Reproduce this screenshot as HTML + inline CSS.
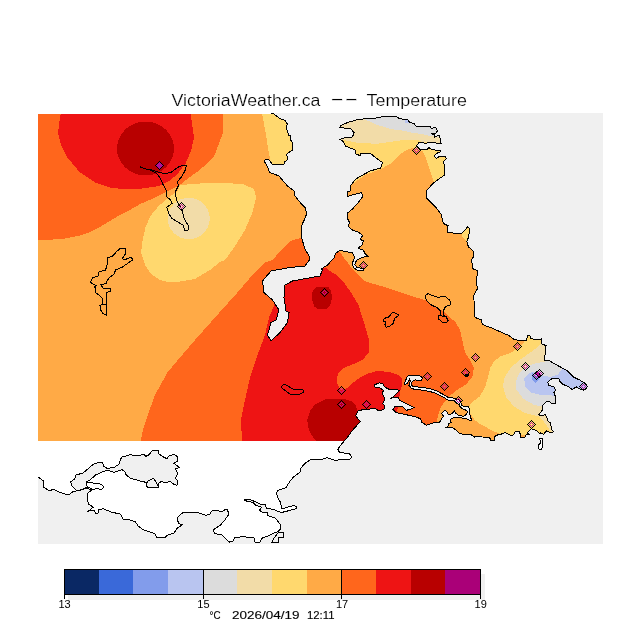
<!DOCTYPE html>
<html><head><meta charset="utf-8"><title>VictoriaWeather.ca -- Temperature</title>
<style>
html,body{margin:0;padding:0;background:#fff;}
body{width:640px;height:640px;overflow:hidden;position:relative;font-family:"Liberation Sans",sans-serif;}
svg{position:absolute;left:0;top:0;}
text{font-family:"Liberation Sans",sans-serif;fill:#000;}
</style></head><body>
<svg width="640" height="640" viewBox="0 0 640 640" shape-rendering="crispEdges">
<defs><clipPath id="plot"><rect x="38" y="113" width="565" height="431"/></clipPath>
<clipPath id="fieldclip"><rect x="38" y="114" width="565" height="327"/></clipPath></defs>
<rect x="0" y="0" width="640" height="640" fill="#ffffff"/>

<g clip-path="url(#plot)">
<rect x="38" y="113" width="565" height="431" fill="#ffffff"/>
<g clip-path="url(#fieldclip)">
<rect x="38" y="113" width="565" height="328" fill="#ffaa46"/>
<polygon fill="#ff661c" points="38.0,113.0 222.5,113.0 223.0,132.5 217.5,147.5 213.8,157.2 207.5,163.4 198.0,171.2 187.2,179.0 179.4,185.3 166.9,191.6 154.4,197.8 140.3,204.0 129.4,210.3 120.0,215.0 110.0,221.0 100.0,227.0 90.0,232.0 80.0,235.5 65.0,238.5 50.0,239.8 38.0,240.0"/>
<polygon fill="#ff661c" points="140.5,441.0 143.0,430.0 146.0,420.0 155.0,395.0 167.5,372.5 180.0,357.5 195.0,340.0 215.0,317.5 237.5,292.5 252.5,275.0 265.0,262.5 272.5,260.0 279.0,252.5 285.0,246.0 290.0,241.0 297.5,238.8 302.5,238.0 320.0,238.0 335.0,250.0 340.0,252.0 344.0,258.0 348.0,263.0 352.0,269.0 357.0,274.0 362.0,279.0 367.0,282.0 374.0,284.0 383.0,286.6 396.8,291.0 415.5,297.2 425.5,300.4 434.2,306.0 443.0,311.0 449.2,316.6 455.5,322.2 460.0,330.0 465.0,352.5 470.0,360.0 474.0,367.8 472.3,377.2 465.3,385.0 456.0,390.5 449.7,396.0 443.4,403.0 440.3,408.4 438.0,416.2 436.4,422.5 436.0,441.0"/>
<polygon fill="#ee1414" points="61.0,113.0 60.0,117.5 58.0,132.5 61.0,145.0 67.5,157.5 80.0,172.5 95.0,182.5 110.0,187.5 125.0,189.5 143.4,188.4 159.0,186.0 170.0,180.6 177.8,173.6 185.6,163.4 191.0,151.0 194.0,137.5 190.5,113.0"/>
<polygon fill="#ee1414" points="242.0,441.0 241.0,420.0 245.0,400.0 250.0,377.5 257.5,355.0 265.0,335.0 269.0,317.5 274.0,306.0 276.0,300.0 290.0,280.0 310.0,268.0 326.5,268.5 330.0,271.0 335.0,274.0 340.0,278.0 345.0,284.0 350.0,291.0 355.0,299.0 359.0,306.0 361.0,314.0 364.0,322.0 367.5,335.0 369.4,340.0 368.8,352.5 362.5,360.0 352.5,364.4 343.8,368.0 338.8,372.5 337.0,377.5 337.2,383.8 339.4,388.0 341.5,390.0 347.0,388.0 352.5,383.0 360.0,377.5 366.5,374.0 376.0,371.2 388.4,371.7 397.8,374.8 402.3,378.4 401.4,388.8 400.0,391.2 399.4,397.5 397.8,407.0 397.0,412.3 397.0,441.0"/>
<polygon fill="#b80000" points="316.5,441.0 313.0,437.0 310.0,432.0 308.0,427.0 307.3,420.0 310.0,411.2 315.0,404.4 325.0,399.4 337.5,398.8 345.5,399.2 351.0,401.0 355.4,404.5 356.5,408.0 357.5,411.5 362.0,420.0 362.0,441.0"/>
<polygon fill="#b80000" points="317.0,287.0 328.5,287.0 331.0,291.0 332.0,297.0 331.0,303.0 329.5,306.0 327.0,309.0 317.0,309.0 314.5,306.5 313.0,303.0 311.5,297.0 312.0,293.0 314.0,289.5"/>
<ellipse fill="#b80000" cx="145.5" cy="148.5" rx="28.5" ry="27"/>
<polygon fill="#ffd86e" points="180.0,185.0 212.5,182.5 242.5,184.0 254.0,189.0 256.0,197.5 252.5,212.5 245.0,230.0 234.0,247.5 225.0,260.0 220.0,262.0 210.0,270.0 195.0,279.0 180.0,281.5 170.0,282.5 160.0,280.0 151.0,273.8 145.0,265.0 141.0,252.5 142.7,240.0 145.8,226.0 151.2,215.0 159.0,205.6 168.4,197.8 177.8,190.8"/>
<polygon fill="#ffd86e" points="262.0,113.0 300.0,113.0 300.0,166.0 272.0,166.0 270.8,162.0 269.0,154.0 265.5,132.0"/>
<polygon fill="#ffd86e" points="335.0,113.0 450.0,113.0 450.0,182.5 434.0,182.5 430.0,170.0 426.2,158.8 422.5,151.2 416.4,149.0 413.0,147.5 406.5,150.3 400.0,154.0 390.0,164.0 381.0,169.0 365.0,175.0 352.5,184.0 335.0,190.0"/>
<polygon fill="#ffd86e" points="524.0,335.0 524.0,341.0 523.4,343.3 517.0,348.8 509.4,353.4 500.0,356.5 497.5,359.0 495.0,360.0 490.3,367.8 488.0,377.2 484.8,388.0 479.4,396.7 473.0,401.4 468.4,407.0 470.0,413.0 474.7,420.0 480.0,424.0 485.6,426.9 492.2,430.6 498.8,433.4 500.0,445.0 610.0,445.0 610.0,335.0"/>
<polygon fill="#ffd86e" points="461.4,233.6 466.0,229.0 467.7,226.6 470.0,229.0 469.2,232.8 468.4,237.5 466.9,241.4 463.0,238.0"/>
<polygon fill="#f2dca8" points="335.0,113.0 450.0,113.0 450.0,143.0 423.4,142.3 418.8,140.5 409.4,139.5 400.0,140.5 396.0,141.0 377.5,143.8 359.0,143.0 340.0,139.4 335.0,139.0"/>
<polygon fill="#f2dca8" points="542.0,335.0 542.0,342.5 537.5,347.0 531.0,352.0 520.0,359.7 511.0,367.5 504.7,377.0 503.0,386.0 506.0,397.0 514.0,406.5 525.0,413.0 538.8,416.4 543.4,421.0 547.3,426.5 551.2,432.0 553.0,436.0 610.0,436.0 610.0,335.0"/>
<ellipse fill="#f2dca8" cx="188.75" cy="218.5" rx="21" ry="20.7"/>
<polygon fill="#dcdcdc" points="365.0,113.0 445.0,113.0 445.0,137.0 431.0,136.2 423.4,134.4 411.2,132.5 400.0,130.0 392.5,129.4 377.5,125.0 365.0,119.4"/>
<polygon fill="#dcdcdc" points="544.5,355.0 544.5,362.0 536.0,363.0 528.0,366.0 520.0,372.0 515.6,381.5 516.4,389.4 523.4,398.8 534.4,405.0 543.0,406.5 610.0,406.5 610.0,355.0"/>
<polygon fill="#b9c5f0" points="562.5,365.0 562.5,369.0 557.8,374.5 550.0,377.0 542.0,375.3 536.0,371.4 529.0,373.0 524.2,378.4 525.0,386.0 531.0,392.5 540.6,395.0 550.0,395.0 554.7,396.4 610.0,396.0 610.0,365.0"/>
<polygon fill="#b9c5f0" points="405.0,118.0 409.4,118.0 409.4,122.6 405.0,122.6"/>
<polygon fill="#829ceb" points="532.0,373.0 539.0,378.0 538.4,380.0 535.4,383.0 532.0,380.0"/>
<polygon fill="#ffaa46" points="520.3,434.5 525.0,434.5 525.0,438.0 520.3,438.0"/>
</g>
<polygon fill="#f0f0f0" points="38.0,477.0 44.0,481.4 43.3,487.0 49.5,490.8 53.4,489.2 59.7,492.3 66.7,494.7 69.8,494.0 73.0,491.5 81.5,490.0 84.7,488.4 92.5,489.5 87.8,493.0 87.0,499.4 88.6,504.0 93.3,507.2 88.6,511.0 94.0,510.3 95.6,513.0 98.0,513.0 98.8,509.5 103.4,508.8 111.2,512.0 120.6,514.2 123.0,519.0 129.4,519.7 135.6,522.0 138.0,526.0 143.4,529.8 155.0,533.8 156.7,537.2 165.3,537.2 167.0,535.3 174.0,533.0 177.8,527.5 182.5,524.8 178.6,523.6 177.0,518.0 180.0,515.0 183.3,512.3 190.3,513.0 196.5,512.2 202.8,514.2 206.2,515.3 210.0,514.2 211.7,511.0 217.2,510.3 221.9,511.9 225.0,509.5 227.8,509.5 228.4,515.0 225.0,519.7 220.3,525.2 213.3,529.8 214.8,533.6 221.9,535.0 225.8,539.0 229.7,542.2 232.8,541.4 235.0,537.5 243.8,536.7 254.0,538.0 254.0,541.4 257.0,543.0 260.0,542.2 261.7,538.3 270.3,535.0 274.2,532.8 278.0,531.7 280.5,529.0 280.5,525.0 276.5,519.5 275.0,518.0 268.0,515.8 267.2,512.6 262.5,512.6 259.4,510.3 261.7,507.2 256.2,505.6 253.0,502.5 246.9,501.2 244.5,500.0 250.0,499.4 260.0,504.0 264.8,504.0 266.4,508.0 273.4,509.5 281.2,512.6 287.5,511.0 296.0,508.8 296.9,506.4 293.8,505.6 287.5,507.2 282.0,508.8 280.5,502.5 278.0,497.8 276.5,493.0 278.0,490.3 286.0,487.7 289.8,481.4 293.8,476.7 300.3,471.9 300.3,468.8 305.0,463.3 311.2,459.4 321.4,459.4 326.9,457.8 334.7,460.2 349.5,459.4 351.9,457.0 349.5,454.0 339.4,452.3 337.8,449.2 342.5,443.0 347.2,437.5 352.5,430.3 360.3,421.7 355.6,415.5 358.0,410.8 365.0,409.2 376.0,408.8 378.4,410.8 384.0,409.4 385.0,406.0 382.7,403.8 385.0,399.0 382.2,393.4 383.6,390.2 379.4,387.8 375.2,387.3 374.2,385.0 379.4,382.7 383.0,384.0 384.5,386.9 388.8,389.2 400.0,390.2 397.2,393.0 391.6,398.1 398.1,397.2 400.0,400.5 407.5,404.2 414.0,407.5 411.2,408.9 406.6,410.3 402.8,407.0 395.3,406.1 393.0,409.4 396.2,412.7 401.0,413.6 407.5,415.0 414.0,416.4 420.6,418.8 421.6,422.0 426.2,425.3 432.0,423.2 435.0,422.5 439.8,422.0 441.4,419.0 443.7,416.2 441.4,413.5 444.5,410.4 446.0,410.8 448.4,414.3 451.5,413.9 454.3,411.1 455.4,413.1 459.3,415.8 464.0,416.2 466.4,414.3 467.5,411.5 464.8,409.6 462.0,408.4 460.1,406.8 459.3,404.5 456.2,403.0 453.0,400.4 447.6,400.0 444.5,397.7 439.8,395.3 435.1,393.0 429.0,391.3 420.8,390.0 412.0,388.8 409.0,385.5 410.3,381.2 409.4,379.0 407.5,383.0 405.6,384.5 404.2,384.0 407.0,377.0 408.4,375.4 419.7,375.6 422.5,378.0 421.5,380.8 415.0,379.8 412.2,381.7 411.2,385.0 413.0,386.5 421.0,387.3 429.8,388.5 436.7,391.0 440.6,393.0 446.0,396.0 448.4,397.6 453.0,398.0 458.5,399.6 461.7,403.7 462.0,405.7 465.6,406.8 468.0,406.5 468.7,406.0 469.5,410.0 469.9,414.7 471.0,418.5 472.2,420.0 470.3,421.0 468.0,419.3 463.2,418.2 458.6,417.4 451.5,418.2 450.4,420.1 451.1,422.9 448.8,423.2 448.4,425.6 446.5,427.2 453.0,428.0 456.2,430.3 459.3,433.4 463.2,434.2 471.0,434.6 474.6,437.0 477.3,436.5 482.0,437.0 489.4,437.2 491.2,441.0 494.0,440.5 494.0,437.2 496.4,435.3 501.5,434.0 505.3,432.5 508.0,434.0 511.0,435.8 513.8,434.8 514.7,432.0 519.4,431.5 520.3,434.4 520.8,437.6 524.5,437.6 526.0,434.8 528.8,434.4 527.3,433.0 531.0,428.8 536.8,430.5 539.5,433.6 541.0,432.8 543.4,434.4 546.6,430.9 549.0,432.0 552.8,432.4 553.6,431.2 551.2,429.7 550.9,423.4 547.3,420.3 547.0,418.0 545.0,414.5 543.4,415.6 539.5,416.0 538.8,414.0 542.7,410.0 542.7,405.5 545.8,402.0 549.0,401.5 551.2,403.0 555.5,403.0 556.0,400.0 555.5,397.0 554.0,392.5 555.5,390.0 554.0,387.0 549.0,385.5 547.6,382.3 551.5,379.0 558.6,378.4 560.0,381.5 562.5,384.0 568.8,387.0 572.0,389.4 576.5,387.0 581.0,389.5 585.5,389.5 587.5,386.5 585.5,383.5 582.8,382.0 579.7,380.0 573.4,377.0 567.0,370.6 558.6,366.0 554.0,363.6 550.0,361.0 544.5,360.5 545.3,352.0 546.0,345.6 542.0,344.0 541.4,338.6 539.0,340.0 531.0,338.6 529.7,335.5 527.3,335.5 526.7,340.2 521.2,340.8 514.2,339.4 508.8,335.5 496.2,330.0 493.1,328.4 482.2,324.5 481.4,319.8 475.2,317.5 474.4,316.0 474.0,300.0 473.6,295.6 477.5,288.6 476.2,281.2 477.8,271.0 473.0,268.8 471.5,259.4 474.0,256.2 473.0,250.8 468.4,246.9 466.9,241.4 468.4,237.5 469.2,232.8 470.0,229.0 467.7,226.6 466.0,229.0 461.4,233.6 456.0,233.6 447.3,232.0 448.0,225.8 443.4,223.4 441.0,214.0 435.6,207.0 428.6,200.0 426.0,197.5 426.0,191.0 434.0,182.5 444.5,175.0 445.0,170.0 444.5,165.3 443.0,162.0 446.4,158.8 445.0,156.0 439.4,156.4 436.5,158.3 433.8,156.0 437.5,153.0 440.3,151.7 440.3,150.3 431.9,149.8 429.0,147.5 427.2,149.4 420.0,149.4 418.3,147.5 416.4,146.0 418.8,142.8 423.0,142.3 425.3,143.8 427.2,142.8 435.6,142.8 436.5,143.3 441.2,143.3 440.3,141.9 439.8,135.3 437.5,135.8 434.2,137.2 435.0,134.4 432.8,134.8 431.4,133.0 436.0,133.0 437.5,131.0 436.0,127.8 433.8,127.3 431.4,128.8 430.0,126.4 416.0,126.0 414.0,123.6 409.4,122.2 407.5,119.4 400.0,118.9 399.0,118.5 396.0,116.0 383.0,116.0 380.0,117.8 366.0,118.5 356.0,120.0 347.5,122.5 341.0,125.6 340.0,127.5 351.0,129.0 354.0,132.5 352.5,137.0 344.0,138.0 340.0,139.4 342.5,140.6 345.6,146.0 355.0,150.0 356.0,154.0 360.0,155.6 360.6,153.8 371.0,153.8 376.0,158.0 382.5,162.5 380.6,168.0 370.0,171.0 356.0,178.8 351.0,185.0 350.0,191.0 347.8,191.7 347.8,196.4 352.5,194.8 361.9,192.5 362.2,197.2 358.8,201.9 352.5,208.9 347.8,212.8 347.8,219.0 349.4,222.2 348.6,226.9 352.5,230.0 358.8,232.3 362.7,235.5 360.3,239.4 363.4,241.0 361.9,245.6 358.0,248.0 363.4,250.3 365.0,253.4 368.0,256.5 361.9,257.3 356.4,260.5 354.8,264.4 357.2,267.8 363.0,268.3 363.0,270.3 357.2,270.3 353.3,267.2 352.5,262.8 354.8,257.3 352.5,253.0 343.0,251.0 339.2,250.8 335.3,253.4 334.5,257.3 327.5,265.0 321.2,269.0 322.5,270.0 320.0,276.0 292.5,281.0 285.0,285.0 284.0,297.5 286.0,311.0 289.0,312.5 287.5,322.5 280.0,332.5 271.0,341.0 267.5,335.0 271.0,322.5 276.0,320.0 279.0,310.0 272.5,300.0 264.0,292.5 262.5,281.0 271.0,271.0 290.0,267.5 304.8,266.0 309.5,259.7 309.5,256.5 304.8,248.8 301.7,237.8 301.7,225.3 304.8,219.0 306.4,214.4 305.6,208.0 301.0,203.4 294.7,195.6 294.0,191.0 287.5,186.0 279.0,176.0 270.0,172.5 268.6,170.0 267.2,166.2 264.4,161.5 265.3,159.2 269.0,159.7 272.3,164.2 284.0,164.2 284.5,162.0 287.3,159.7 286.9,154.0 292.0,150.3 292.0,141.9 290.0,139.0 290.0,135.8 288.8,135.3 286.4,127.8 287.3,124.0 285.0,120.3 279.4,118.4 273.8,113.8 271.0,113.0 603.0,113.0 603.0,544.0 38.0,544.0"/>
<polygon fill="#f0f0f0" stroke="#000" stroke-width="1" points="77.0,490.8 72.0,486.0 70.6,482.0 74.5,479.0 76.0,475.0 83.0,473.0 87.8,469.0 93.3,464.2 98.8,462.3 102.6,462.6 104.0,466.5 107.3,468.4 114.4,467.3 119.0,464.2 120.6,459.5 121.5,457.2 131.0,454.5 134.8,456.0 144.2,454.5 145.8,456.4 149.0,454.8 152.0,451.0 158.3,450.6 159.0,454.0 163.8,457.2 167.0,458.8 169.2,455.6 174.0,454.5 177.0,456.4 177.8,461.0 174.0,463.4 179.4,467.3 175.5,469.0 177.8,473.6 175.5,478.3 177.8,481.4 177.0,485.3 174.0,484.5 170.0,481.4 165.3,483.0 161.4,481.4 158.3,483.8 158.3,487.0 147.3,487.0 146.5,482.5 138.8,480.6 130.0,478.0 126.2,475.0 124.7,471.2 122.0,469.7 119.0,470.5 114.4,472.3 108.0,470.5 103.4,471.2 95.6,475.0 90.0,480.0 86.2,482.0 86.5,485.0 87.8,487.0 83.0,489.2"/>
<polygon fill="#f0f0f0" stroke="#000" stroke-width="1" points="147.3,481.4 153.6,478.3 156.7,483.0 158.3,487.0 147.3,487.0 146.5,485.3"/>
<polyline fill="none" stroke="#000" stroke-width="1" points="86.2,482.0 92.5,483.0 101.0,484.2 104.0,487.0 102.0,489.2 95.6,488.8 92.5,489.5 87.8,487.0"/>
<polyline fill="none" stroke="#000" stroke-width="1" points="38.0,477.0 44.0,481.4 43.3,487.0 49.5,490.8 53.4,489.2 59.7,492.3 66.7,494.7 69.8,494.0 73.0,491.5 81.5,490.0 84.7,488.4 92.5,489.5 87.8,493.0 87.0,499.4 88.6,504.0 93.3,507.2 88.6,511.0 94.0,510.3 95.6,513.0 98.0,513.0 98.8,509.5 103.4,508.8 111.2,512.0 120.6,514.2 123.0,519.0 129.4,519.7 135.6,522.0 138.0,526.0 143.4,529.8 155.0,533.8 156.7,537.2 165.3,537.2 167.0,535.3 174.0,533.0 177.8,527.5 182.5,524.8 178.6,523.6 177.0,518.0 180.0,515.0 183.3,512.3 190.3,513.0 196.5,512.2 202.8,514.2 206.2,515.3 210.0,514.2 211.7,511.0 217.2,510.3 221.9,511.9 225.0,509.5 227.8,509.5 228.4,515.0 225.0,519.7 220.3,525.2 213.3,529.8 214.8,533.6 221.9,535.0 225.8,539.0 229.7,542.2 232.8,541.4 235.0,537.5 243.8,536.7 254.0,538.0 254.0,541.4 257.0,543.0 260.0,542.2 261.7,538.3 270.3,535.0 274.2,532.8 278.0,531.7 280.5,529.0 280.5,525.0 276.5,519.5 275.0,518.0 268.0,515.8 267.2,512.6 262.5,512.6 259.4,510.3 261.7,507.2 256.2,505.6 253.0,502.5 246.9,501.2 244.5,500.0 250.0,499.4 260.0,504.0 264.8,504.0 266.4,508.0 273.4,509.5 281.2,512.6 287.5,511.0 296.0,508.8 296.9,506.4 293.8,505.6 287.5,507.2 282.0,508.8 280.5,502.5 278.0,497.8 276.5,493.0 278.0,490.3 286.0,487.7 289.8,481.4 293.8,476.7 300.3,471.9 300.3,468.8 305.0,463.3 311.2,459.4 321.4,459.4 326.9,457.8 334.7,460.2 349.5,459.4 351.9,457.0 349.5,454.0 339.4,452.3 337.8,449.2 342.5,443.0 347.2,437.5 352.5,430.3 360.3,421.7 355.6,415.5 358.0,410.8 365.0,409.2 376.0,408.8 378.4,410.8 384.0,409.4 385.0,406.0 382.7,403.8 385.0,399.0 382.2,393.4 383.6,390.2 379.4,387.8 375.2,387.3 374.2,385.0 379.4,382.7 383.0,384.0 384.5,386.9 388.8,389.2 400.0,390.2 397.2,393.0 391.6,398.1 398.1,397.2 400.0,400.5 407.5,404.2 414.0,407.5 411.2,408.9 406.6,410.3 402.8,407.0 395.3,406.1 393.0,409.4 396.2,412.7 401.0,413.6 407.5,415.0 414.0,416.4 420.6,418.8 421.6,422.0 426.2,425.3 432.0,423.2 435.0,422.5 439.8,422.0 441.4,419.0 443.7,416.2 441.4,413.5 444.5,410.4 446.0,410.8 448.4,414.3 451.5,413.9 454.3,411.1 455.4,413.1 459.3,415.8 464.0,416.2 466.4,414.3 467.5,411.5 464.8,409.6 462.0,408.4 460.1,406.8 459.3,404.5 456.2,403.0 453.0,400.4 447.6,400.0 444.5,397.7 439.8,395.3 435.1,393.0 429.0,391.3 420.8,390.0 412.0,388.8 409.0,385.5 410.3,381.2 409.4,379.0 407.5,383.0 405.6,384.5 404.2,384.0 407.0,377.0 408.4,375.4 419.7,375.6 422.5,378.0 421.5,380.8 415.0,379.8 412.2,381.7 411.2,385.0 413.0,386.5 421.0,387.3 429.8,388.5 436.7,391.0 440.6,393.0 446.0,396.0 448.4,397.6 453.0,398.0 458.5,399.6 461.7,403.7 462.0,405.7 465.6,406.8 468.0,406.5 468.7,406.0 469.5,410.0 469.9,414.7 471.0,418.5 472.2,420.0 470.3,421.0 468.0,419.3 463.2,418.2 458.6,417.4 451.5,418.2 450.4,420.1 451.1,422.9 448.8,423.2 448.4,425.6 446.5,427.2 453.0,428.0 456.2,430.3 459.3,433.4 463.2,434.2 471.0,434.6 474.6,437.0 477.3,436.5 482.0,437.0 489.4,437.2 491.2,441.0 494.0,440.5 494.0,437.2 496.4,435.3 501.5,434.0 505.3,432.5 508.0,434.0 511.0,435.8 513.8,434.8 514.7,432.0 519.4,431.5 520.3,434.4 520.8,437.6 524.5,437.6 526.0,434.8 528.8,434.4 527.3,433.0 531.0,428.8 536.8,430.5 539.5,433.6 541.0,432.8 543.4,434.4 546.6,430.9 549.0,432.0 552.8,432.4 553.6,431.2 551.2,429.7 550.9,423.4 547.3,420.3 547.0,418.0 545.0,414.5 543.4,415.6 539.5,416.0 538.8,414.0 542.7,410.0 542.7,405.5 545.8,402.0 549.0,401.5 551.2,403.0 555.5,403.0 556.0,400.0 555.5,397.0 554.0,392.5 555.5,390.0 554.0,387.0 549.0,385.5 547.6,382.3 551.5,379.0 558.6,378.4 560.0,381.5 562.5,384.0 568.8,387.0 572.0,389.4 576.5,387.0 581.0,389.5 585.5,389.5 587.5,386.5 585.5,383.5 582.8,382.0 579.7,380.0 573.4,377.0 567.0,370.6 558.6,366.0 554.0,363.6 550.0,361.0 544.5,360.5 545.3,352.0 546.0,345.6 542.0,344.0 541.4,338.6 539.0,340.0 531.0,338.6 529.7,335.5 527.3,335.5 526.7,340.2 521.2,340.8 514.2,339.4 508.8,335.5 496.2,330.0 493.1,328.4 482.2,324.5 481.4,319.8 475.2,317.5 474.4,316.0 474.0,300.0 473.6,295.6 477.5,288.6 476.2,281.2 477.8,271.0 473.0,268.8 471.5,259.4 474.0,256.2 473.0,250.8 468.4,246.9 466.9,241.4 468.4,237.5 469.2,232.8 470.0,229.0 467.7,226.6 466.0,229.0 461.4,233.6 456.0,233.6 447.3,232.0 448.0,225.8 443.4,223.4 441.0,214.0 435.6,207.0 428.6,200.0 426.0,197.5 426.0,191.0 434.0,182.5 444.5,175.0 445.0,170.0 444.5,165.3 443.0,162.0 446.4,158.8 445.0,156.0 439.4,156.4 436.5,158.3 433.8,156.0 437.5,153.0 440.3,151.7 440.3,150.3 431.9,149.8 429.0,147.5 427.2,149.4 420.0,149.4 418.3,147.5 416.4,146.0 418.8,142.8 423.0,142.3 425.3,143.8 427.2,142.8 435.6,142.8 436.5,143.3 441.2,143.3 440.3,141.9 439.8,135.3 437.5,135.8 434.2,137.2 435.0,134.4 432.8,134.8 431.4,133.0 436.0,133.0 437.5,131.0 436.0,127.8 433.8,127.3 431.4,128.8 430.0,126.4 416.0,126.0 414.0,123.6 409.4,122.2 407.5,119.4 400.0,118.9 399.0,118.5 396.0,116.0 383.0,116.0 380.0,117.8 366.0,118.5 356.0,120.0 347.5,122.5 341.0,125.6 340.0,127.5 351.0,129.0 354.0,132.5 352.5,137.0 344.0,138.0 340.0,139.4 342.5,140.6 345.6,146.0 355.0,150.0 356.0,154.0 360.0,155.6 360.6,153.8 371.0,153.8 376.0,158.0 382.5,162.5 380.6,168.0 370.0,171.0 356.0,178.8 351.0,185.0 350.0,191.0 347.8,191.7 347.8,196.4 352.5,194.8 361.9,192.5 362.2,197.2 358.8,201.9 352.5,208.9 347.8,212.8 347.8,219.0 349.4,222.2 348.6,226.9 352.5,230.0 358.8,232.3 362.7,235.5 360.3,239.4 363.4,241.0 361.9,245.6 358.0,248.0 363.4,250.3 365.0,253.4 368.0,256.5 361.9,257.3 356.4,260.5 354.8,264.4 357.2,267.8 363.0,268.3 363.0,270.3 357.2,270.3 353.3,267.2 352.5,262.8 354.8,257.3 352.5,253.0 343.0,251.0 339.2,250.8 335.3,253.4 334.5,257.3 327.5,265.0 321.2,269.0 322.5,270.0 320.0,276.0 292.5,281.0 285.0,285.0 284.0,297.5 286.0,311.0 289.0,312.5 287.5,322.5 280.0,332.5 271.0,341.0 267.5,335.0 271.0,322.5 276.0,320.0 279.0,310.0 272.5,300.0 264.0,292.5 262.5,281.0 271.0,271.0 290.0,267.5 304.8,266.0 309.5,259.7 309.5,256.5 304.8,248.8 301.7,237.8 301.7,225.3 304.8,219.0 306.4,214.4 305.6,208.0 301.0,203.4 294.7,195.6 294.0,191.0 287.5,186.0 279.0,176.0 270.0,172.5 268.6,170.0 267.2,166.2 264.4,161.5 265.3,159.2 269.0,159.7 272.3,164.2 284.0,164.2 284.5,162.0 287.3,159.7 286.9,154.0 292.0,150.3 292.0,141.9 290.0,139.0 290.0,135.8 288.8,135.3 286.4,127.8 287.3,124.0 285.0,120.3 279.4,118.4 273.8,113.8 271.0,113.0"/>
<polygon fill="#fff" stroke="#000" stroke-width="1" points="539.5,438.5 542.5,438.5 542.5,447.0 541.0,450.0 538.5,448.5 538.5,444.5 540.5,443.5 540.5,440.5 539.5,439.8"/>
<polygon fill="none" stroke="#000" stroke-width="1" points="278.0,532.8 283.6,533.0 283.6,537.5 279.0,537.5 278.0,543.0 272.0,542.5 273.4,539.0 276.5,535.0"/>
<polyline fill="none" stroke="#000" stroke-width="1" points="120.0,248.5 125.6,248.5 125.6,253.8 122.0,258.8 125.6,259.4 130.6,257.2 132.5,258.8 132.0,260.6 128.8,262.5 122.5,267.0 115.6,270.0 113.8,274.4 109.4,277.5 107.0,281.2 106.2,283.8 100.6,284.4 103.0,288.0 110.0,288.8 110.0,291.2 107.0,292.5 106.2,298.8 106.5,315.0 103.0,313.8 100.6,310.0 100.0,305.6 102.5,304.4 103.0,298.8 98.8,295.0 95.6,292.5 95.6,288.0 93.8,287.0 96.2,285.6 90.6,282.5 92.5,277.5 98.0,276.2 98.8,272.0 105.6,270.0 107.0,265.0 107.5,258.0 112.5,256.2 116.2,252.0 120.0,248.5"/>
<polyline fill="none" stroke="#000" stroke-width="1" points="102.5,304.4 106.3,305.0"/>
<polyline fill="none" stroke="#000" stroke-width="1" points="140.3,166.9 145.0,168.9 151.2,169.7 157.5,172.0 165.3,173.6 171.6,172.0 177.8,167.3 184.0,165.0 186.4,165.8 184.8,171.2 181.0,177.5 177.0,182.2 178.6,185.3 175.5,191.6 176.2,199.4 179.4,205.6 182.5,210.3 183.3,216.6 185.6,221.2 188.8,226.7 188.0,230.3 184.8,230.3 183.3,225.2 177.8,222.0 171.6,218.1 168.4,212.7 166.9,207.2 172.3,203.3 170.8,200.2 166.9,197.0 166.0,190.0 163.0,184.5 159.8,177.5 156.0,172.8 151.2,170.5 143.4,168.1 140.3,166.9"/>
<polyline fill="none" stroke="#000" stroke-width="1" points="281.0,387.5 284.0,384.0 295.0,390.0 302.5,389.5 304.0,392.0 297.5,395.0 290.0,394.0 281.0,387.5"/>
<polyline fill="none" stroke="#000" stroke-width="1" points="424.9,296.0 428.0,293.5 431.8,295.4 438.0,297.2 445.5,296.6 449.9,300.4 450.5,304.8 445.5,306.6 443.6,310.4 443.6,315.4 446.1,316.6 448.0,320.4 446.1,323.1 442.4,322.2 438.6,319.1 438.0,316.0 440.5,314.8 440.5,311.0 436.8,307.2 431.8,305.4 426.8,301.0 424.9,296.0"/>
<polyline fill="none" stroke="#000" stroke-width="1" points="440.5,315.5 443.5,316.6 446.1,316.6"/>
<polyline fill="none" stroke="#000" stroke-width="1" points="383.6,318.5 388.6,317.2 392.4,312.2 394.9,312.9 398.6,314.8 397.4,316.6 394.9,317.9 393.0,323.5 389.9,326.0 386.1,327.2 384.9,324.8 386.1,322.2 383.6,321.0 383.6,318.5"/>
</g>
<defs><g id="mk"><rect x="-4" y="0" width="1" height="1" fill="#000"/><rect x="-3" y="-1" width="1" height="1" fill="#000"/><rect x="-3" y="1" width="1" height="1" fill="#000"/><rect x="-2" y="-2" width="1" height="1" fill="#000"/><rect x="-2" y="2" width="1" height="1" fill="#000"/><rect x="-1" y="-3" width="1" height="1" fill="#000"/><rect x="-1" y="3" width="1" height="1" fill="#000"/><rect x="0" y="-4" width="1" height="1" fill="#000"/><rect x="0" y="4" width="1" height="1" fill="#000"/><rect x="1" y="-3" width="1" height="1" fill="#000"/><rect x="1" y="3" width="1" height="1" fill="#000"/><rect x="2" y="-2" width="1" height="1" fill="#000"/><rect x="2" y="2" width="1" height="1" fill="#000"/><rect x="3" y="-1" width="1" height="1" fill="#000"/><rect x="3" y="1" width="1" height="1" fill="#000"/><rect x="4" y="0" width="1" height="1" fill="#000"/><rect x="-2" y="0" width="1" height="1" fill="#c0109a"/><rect x="-1" y="-1" width="1" height="1" fill="#c0109a"/><rect x="-1" y="1" width="1" height="1" fill="#c0109a"/><rect x="0" y="-2" width="1" height="1" fill="#c0109a"/><rect x="0" y="2" width="1" height="1" fill="#c0109a"/><rect x="1" y="-1" width="1" height="1" fill="#c0109a"/><rect x="1" y="1" width="1" height="1" fill="#c0109a"/><rect x="2" y="0" width="1" height="1" fill="#c0109a"/></g><g id="mks"><polygon points="0.5,-3 4,0.5 0.5,4 -3,0.5" fill="#b0109a"/><rect x="-4" y="0" width="1" height="1" fill="#000"/><rect x="-3" y="-1" width="1" height="1" fill="#000"/><rect x="-3" y="1" width="1" height="1" fill="#000"/><rect x="-2" y="-2" width="1" height="1" fill="#000"/><rect x="-2" y="2" width="1" height="1" fill="#000"/><rect x="-1" y="-3" width="1" height="1" fill="#000"/><rect x="-1" y="3" width="1" height="1" fill="#000"/><rect x="0" y="-4" width="1" height="1" fill="#000"/><rect x="0" y="4" width="1" height="1" fill="#000"/><rect x="1" y="-3" width="1" height="1" fill="#000"/><rect x="1" y="3" width="1" height="1" fill="#000"/><rect x="2" y="-2" width="1" height="1" fill="#000"/><rect x="2" y="2" width="1" height="1" fill="#000"/><rect x="3" y="-1" width="1" height="1" fill="#000"/><rect x="3" y="1" width="1" height="1" fill="#000"/><rect x="4" y="0" width="1" height="1" fill="#000"/></g></defs>
<g>
<use href="#mks" x="159" y="165"/>
<use href="#mk" x="181" y="206"/>
<use href="#mk" x="416" y="150"/>
<use href="#mk" x="363" y="265"/>
<use href="#mk" x="324" y="292"/>
<use href="#mk" x="341" y="390"/>
<use href="#mk" x="341" y="404"/>
<use href="#mk" x="366" y="404"/>
<use href="#mk" x="427" y="376"/>
<use href="#mk" x="444" y="386"/>
<use href="#mk" x="465" y="372"/>
<use href="#mk" x="475" y="357"/>
<use href="#mk" x="458" y="400"/>
<use href="#mk" x="517" y="346"/>
<use href="#mk" x="525" y="366"/>
<use href="#mk" x="531" y="424"/>
<use href="#mk" x="583" y="386"/>
<polygon points="534.6,373.6 537.4,370.8 542,375.4 539.2,378.2" fill="#000"/>
<use href="#mk" x="536" y="375"/>
<use href="#mk" x="539" y="373"/>
<rect x="538" y="373" width="1" height="1" fill="#c0109a"/><rect x="537" y="374" width="1" height="1" fill="#c0109a"/><rect x="538" y="375" width="1" height="1" fill="#c0109a"/><rect x="537" y="372" width="1" height="1" fill="#c0109a"/>
<rect x="465" y="374" width="4" height="2" fill="#000"/><rect x="466" y="376" width="2" height="1" fill="#000"/>
</g>
<rect x="68" y="574" width="417" height="26" fill="#f0f0f0"/>
<rect x="64" y="569" width="35" height="26" fill="#0a2864"/>
<rect x="99" y="569" width="34" height="26" fill="#3a69d9"/>
<rect x="133" y="569" width="35" height="26" fill="#829ceb"/>
<rect x="168" y="569" width="35" height="26" fill="#b9c5f0"/>
<rect x="203" y="569" width="34" height="26" fill="#dcdcdc"/>
<rect x="237" y="569" width="35" height="26" fill="#f2dca8"/>
<rect x="272" y="569" width="35" height="26" fill="#ffd86e"/>
<rect x="307" y="569" width="34" height="26" fill="#ffaa46"/>
<rect x="341" y="569" width="35" height="26" fill="#ff661c"/>
<rect x="376" y="569" width="35" height="26" fill="#ee1414"/>
<rect x="411" y="569" width="34" height="26" fill="#b80000"/>
<rect x="445" y="569" width="35" height="26" fill="#aa0078"/>
<rect x="64.5" y="569.5" width="416" height="25" fill="none" stroke="#000" stroke-width="1"/>
<line x1="64.5" y1="569" x2="64.5" y2="599" stroke="#000" stroke-width="1"/>
<line x1="203.5" y1="569" x2="203.5" y2="599" stroke="#000" stroke-width="1"/>
<line x1="341.5" y1="569" x2="341.5" y2="599" stroke="#000" stroke-width="1"/>
<line x1="480.5" y1="569" x2="480.5" y2="599" stroke="#000" stroke-width="1"/>
</svg>
<svg width="640" height="640" viewBox="0 0 640 640" style="will-change:transform">
<g stroke="#fff" stroke-width="0.22" fill="#000">
<text x="171.5" y="105.6" font-size="16.5" textLength="149" lengthAdjust="spacingAndGlyphs">VictoriaWeather.ca</text>
<text x="330" y="104.4" font-size="16.5" textLength="28.5" lengthAdjust="spacingAndGlyphs">--</text>
<text x="366.5" y="105.6" font-size="16.5" textLength="100.5" lengthAdjust="spacingAndGlyphs">Temperature</text>
</g>
<g fill="#000">
<text x="58.5" y="607.6" font-size="11">13</text>
<text x="197.3" y="607.6" font-size="11">15</text>
<text x="336" y="607.6" font-size="11">17</text>
<text x="474.6" y="607.6" font-size="11">19</text>
</g>
<g fill="#000" stroke="#000" stroke-width="0.12" font-size="11">
<text x="209.5" y="618.6" textLength="11" lengthAdjust="spacingAndGlyphs">°C</text>
<text x="232" y="618.6" textLength="67.5" lengthAdjust="spacingAndGlyphs">2026/04/19</text>
<text x="307" y="618.6" textLength="27.5" lengthAdjust="spacingAndGlyphs">12:11</text>
</g>
</svg>
</body></html>
